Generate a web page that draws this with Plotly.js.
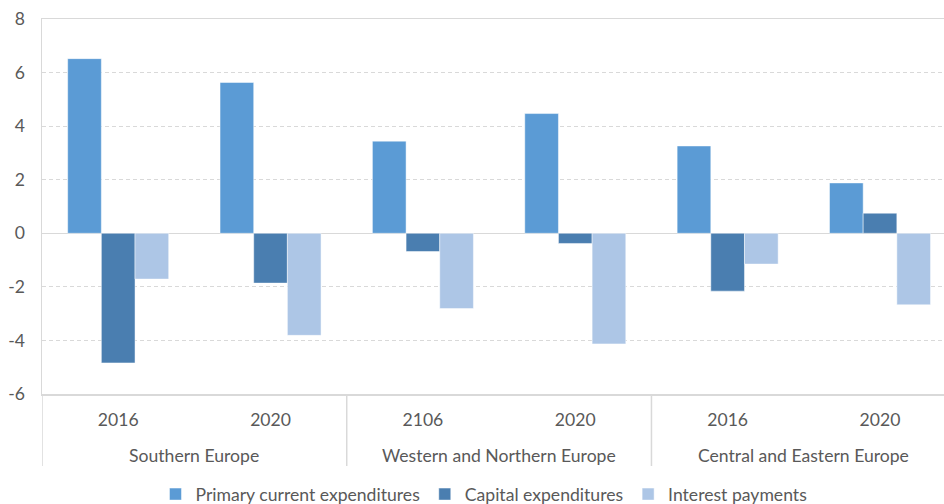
<!DOCTYPE html>
<html>
<head>
<meta charset="utf-8">
<script src="https://cdn.plot.ly/plotly-3.0.1.min.js"></script>
<style>html,body{margin:0;padding:0;background:#fff;}#chart{width:944px;height:504px;}</style>
</head>
<body>
<div id="chart"></div>
<script>
const regions = ["Southern Europe","Southern Europe","Western and Northern Europe","Western and Northern Europe","Central and Eastern Europe","Central and Eastern Europe"];
const years = ["2016","2020","2106","2020","2016","2020"];
const primaryCurrent = [6.52, 5.63, 3.44, 4.47, 3.26, 1.88];
const capitalExp = [-4.84, -1.86, -0.68, -0.38, -2.16, 0.75];
const interestPay = [-1.71, -3.81, -2.81, -4.13, -1.15, -2.67];
const seriesNames = ["Primary current expenditures","Capital expenditures","Interest payments"];
const groupNames = ["Southern Europe","Western and Northern Europe","Central and Eastern Europe"];
const yTicks = [-6,-4,-2,0,2,4,6,8];

const FONT = "Lato, 'Open Sans', sans-serif";
const TXT = '#595959';
const colors = ["#5b9bd5","#4a7eb0","#adc6e6"];
const cats = regions.map((r,i)=> r + " | " + years[i]);
const traces = [primaryCurrent, capitalExp, interestPay].map((v,i)=>({
  type:'bar', x:cats, y:v, name:seriesNames[i],
  marker:{color:colors[i], line:{color:'rgba(255,255,255,0.6)', width:0.8}},
  hoverinfo:'none'
}));

// group labels and dividers derived from the region array
const annotations = [];
const shapes = [];
groupNames.forEach(g=>{
  const idx = regions.map((r,i)=>r===g?i:-1).filter(i=>i>=0);
  const mid = (idx[0] + idx[idx.length-1]) / 2;
  annotations.push({x:mid, xref:'x', y:-0.163, yref:'paper', yanchor:'middle', xanchor:'center',
    text:g, showarrow:false, font:{family:FONT, size:17.6, color:TXT}});
  shapes.push({type:'line', xref:'x', yref:'paper', x0:idx[0]-0.5, x1:idx[0]-0.5, y0:0, y1:-0.192,
    line:{color:'#d9d9d9', width:1.5}});
});

const layout = {
  width:944, height:504,
  margin:{l:42, r:0, t:19, b:110, autoexpand:false},
  paper_bgcolor:'#fff', plot_bgcolor:'#fff',
  font:{family:FONT, size:17.6, color:TXT},
  barmode:'group', bargap:0.337, bargroupgap:0,
  showlegend:true,
  legend:{orientation:'h', x:0.49, xanchor:'center', y:-0.267, yanchor:'middle',
          font:{family:FONT, size:17.6, color:TXT}, traceorder:'normal'},
  xaxis:{type:'category', categoryorder:'array', categoryarray:cats, automargin:false,
         tickvals:cats, ticktext:years, showline:true, linecolor:'#d9d9d9', linewidth:1.5, mirror:true,
         ticks:'', ticklabelstandoff:9, range:[-0.5, cats.length-0.58],
         tickfont:{family:FONT, size:17.6, color:TXT}, showgrid:false},
  yaxis:{range:[-6,8], tickvals:yTicks, ticktext:yTicks.map(String), automargin:false,
         showgrid:true, gridcolor:'#d9d9d9', griddash:'4px,3px', gridwidth:1,
         zeroline:true, zerolinecolor:'#d9d9d9', zerolinewidth:1.5,
         showline:true, linecolor:'#d9d9d9', linewidth:1.5, ticklabelstandoff:12,
         tickfont:{family:FONT, size:17.6, color:TXT}},
  annotations: annotations,
  shapes: shapes
};
Plotly.newPlot('chart', traces, layout, {displayModeBar:false, staticPlot:true});
</script>
</body>
</html>
